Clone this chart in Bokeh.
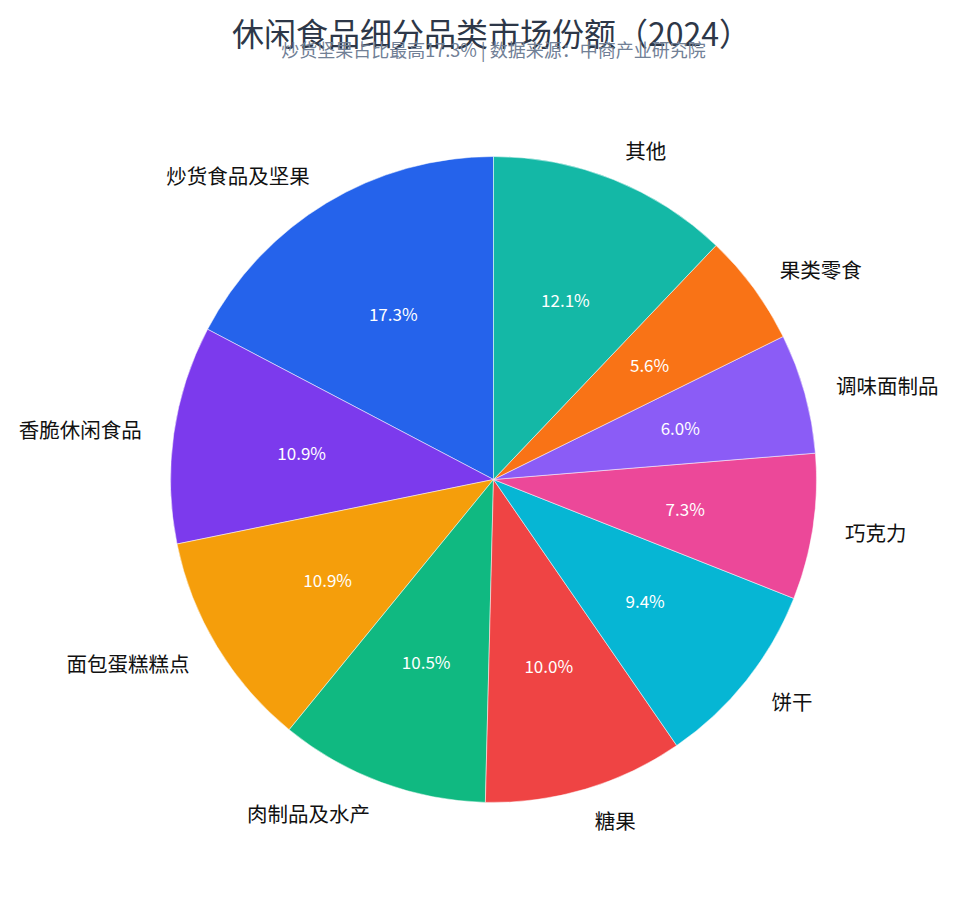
import numpy as np
from bokeh.plotting import figure
from bokeh.models import ColumnDataSource, Range1d
from bokeh.core.properties import value
from bokeh.embed import file_html
from bokeh.resources import INLINE

categories = ["炒货食品及坚果", "香脆休闲食品", "面包蛋糕糕点", "肉制品及水产", "糖果",
              "饼干", "巧克力", "调味面制品", "果类零食", "其他"]
shares = [17.3, 10.9, 10.9, 10.5, 10.0, 9.4, 7.3, 6.0, 5.6, 12.1]
colors = ["#2563eb", "#7c3aed", "#f59e0b", "#10b981", "#ef4444",
          "#06b6d4", "#ec4899", "#8b5cf6", "#f97316", "#14b8a6"]
title_text = "休闲食品细分品类市场份额（2024）"
subtitle_text = "炒货坚果占比最高17.3% | 数据来源：中商产业研究院"

W, H = 940, 882
CX, CY = 493, H - 479
R = 323
FONT = "Noto Sans CJK SC"

vals = np.array(shares, dtype=float)
frac = vals / vals.sum()
ends = np.cumsum(frac) * 2 * np.pi
starts = ends - frac * 2 * np.pi
start_angle = np.pi / 2 + starts
end_angle = np.pi / 2 + ends
mid = (start_angle + end_angle) / 2

src = ColumnDataSource(dict(
    cat=categories, share=shares, color=colors,
    start=start_angle, end=end_angle,
    lx=CX + 1.1 * R * np.cos(mid), ly=CY + 1.1 * R * np.sin(mid),
    px=CX + 0.6 * R * np.cos(mid), py=CY + 0.6 * R * np.sin(mid),
    pct=[f"{v:.1f}%" for v in shares],
    align=["left" if np.cos(m) >= 0 else "right" for m in mid],
))

p = figure(width=W, height=H, output_backend="svg", toolbar_location=None,
           x_range=Range1d(0, W), y_range=Range1d(0, H), min_border=0)
p.axis.visible = False
p.grid.visible = False
p.outline_line_color = None
p.background_fill_color = "white"

p.wedge(x=CX, y=CY, radius=R, start_angle="start", end_angle="end",
        direction="anticlock", fill_color="color", line_color="white",
        line_width=0.5, source=src)

p.text(x="lx", y="ly", text="cat", text_align="align", text_baseline="middle",
       text_font=value(FONT), text_font_size="20.5px", text_color="#111111", source=src)
p.text(x="px", y="py", text="pct", text_align="center", text_baseline="middle",
       text_font=value(FONT), text_font_size="17px", text_color="white", source=src)

p.text(x=[491], y=[H - 31], text=[title_text], text_align="center",
       text_baseline="middle", text_font=value(FONT), text_font_size="32px",
       text_color="#2d3748")
p.text(x=[493], y=[H - 48], text=[subtitle_text], text_align="center",
       text_baseline="middle", text_font=value(FONT), text_font_size="18px",
       text_color="#718096")

open("out.html", "w").write(file_html(p, INLINE))
